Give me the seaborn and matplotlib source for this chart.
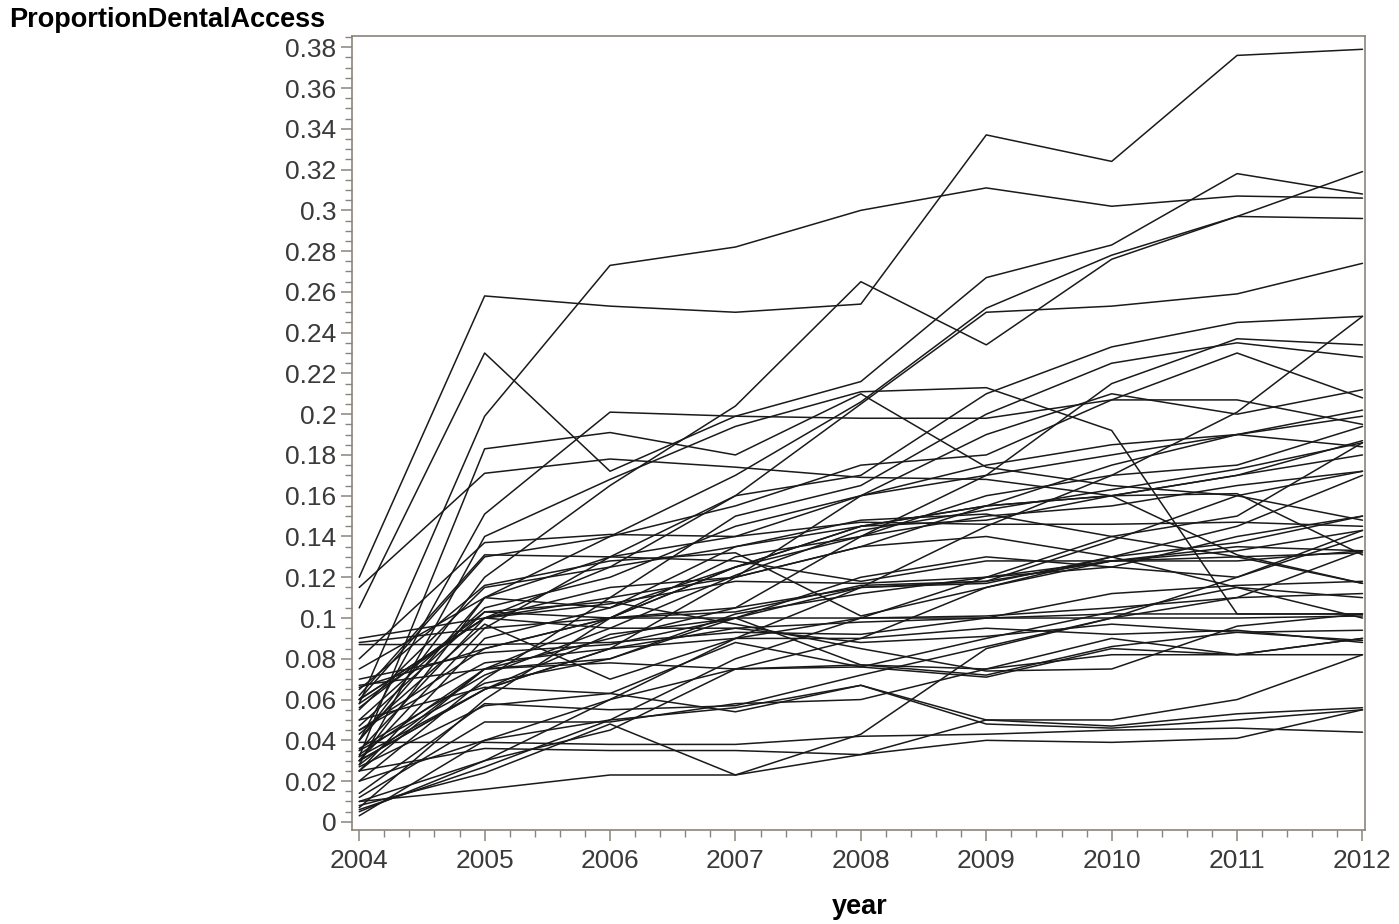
import numpy as np
import pandas as pd
import matplotlib
matplotlib.use("Agg")
import matplotlib.pyplot as plt
import seaborn as sns
from matplotlib.ticker import MultipleLocator, FuncFormatter

years = [2004, 2005, 2006, 2007, 2008, 2009, 2010, 2011, 2012]

# Proportion with dental access, one list per unit
proportion_by_unit = [
    [0.120, 0.258, 0.253, 0.250, 0.254, 0.337, 0.324, 0.376, 0.379],
    [0.058, 0.199, 0.273, 0.282, 0.300, 0.311, 0.302, 0.307, 0.306],
    [0.105, 0.230, 0.172, 0.199, 0.216, 0.267, 0.283, 0.318, 0.308],
    [0.030, 0.110, 0.140, 0.170, 0.206, 0.252, 0.278, 0.297, 0.319],
    [0.040, 0.120, 0.165, 0.204, 0.265, 0.234, 0.276, 0.297, 0.296],
    [0.030, 0.095, 0.130, 0.160, 0.205, 0.250, 0.253, 0.259, 0.274],
    [0.115, 0.171, 0.178, 0.174, 0.169, 0.168, 0.160, 0.131, 0.117],
    [0.032, 0.183, 0.191, 0.180, 0.210, 0.174, 0.165, 0.160, 0.172],
    [0.040, 0.151, 0.201, 0.199, 0.198, 0.198, 0.207, 0.207, 0.195],
    [0.028, 0.140, 0.168, 0.194, 0.211, 0.213, 0.192, 0.102, 0.102],
    [0.035, 0.100, 0.125, 0.160, 0.170, 0.210, 0.233, 0.245, 0.248],
    [0.020, 0.070, 0.110, 0.150, 0.165, 0.200, 0.225, 0.235, 0.228],
    [0.060, 0.130, 0.140, 0.155, 0.175, 0.180, 0.207, 0.230, 0.208],
    [0.007, 0.060, 0.100, 0.130, 0.140, 0.170, 0.215, 0.237, 0.234],
    [0.050, 0.105, 0.120, 0.145, 0.160, 0.190, 0.210, 0.200, 0.212],
    [0.010, 0.030, 0.060, 0.090, 0.115, 0.145, 0.170, 0.201, 0.248],
    [0.060, 0.100, 0.110, 0.120, 0.160, 0.175, 0.185, 0.190, 0.202],
    [0.045, 0.085, 0.100, 0.125, 0.145, 0.155, 0.175, 0.190, 0.199],
    [0.033, 0.075, 0.090, 0.105, 0.140, 0.160, 0.170, 0.175, 0.194],
    [0.030, 0.065, 0.085, 0.120, 0.135, 0.155, 0.160, 0.170, 0.187],
    [0.040, 0.110, 0.130, 0.140, 0.160, 0.170, 0.180, 0.190, 0.184],
    [0.055, 0.115, 0.125, 0.135, 0.145, 0.155, 0.160, 0.170, 0.180],
    [0.025, 0.090, 0.105, 0.125, 0.140, 0.150, 0.155, 0.165, 0.172],
    [0.080, 0.137, 0.141, 0.140, 0.147, 0.146, 0.146, 0.147, 0.145],
    [0.062, 0.131, 0.130, 0.128, 0.118, 0.128, 0.128, 0.128, 0.133],
    [0.065, 0.116, 0.128, 0.132, 0.101, 0.115, 0.128, 0.130, 0.132],
    [0.090, 0.100, 0.107, 0.118, 0.117, 0.120, 0.128, 0.133, 0.143],
    [0.058, 0.100, 0.115, 0.120, 0.135, 0.140, 0.130, 0.115, 0.110],
    [0.087, 0.087, 0.088, 0.093, 0.092, 0.100, 0.100, 0.100, 0.101],
    [0.088, 0.095, 0.100, 0.105, 0.115, 0.117, 0.130, 0.137, 0.150],
    [0.066, 0.085, 0.100, 0.103, 0.116, 0.118, 0.138, 0.160, 0.148],
    [0.067, 0.075, 0.080, 0.100, 0.120, 0.130, 0.125, 0.120, 0.140],
    [0.060, 0.100, 0.095, 0.095, 0.098, 0.100, 0.112, 0.116, 0.118],
    [0.075, 0.110, 0.105, 0.135, 0.148, 0.151, 0.140, 0.130, 0.117],
    [0.047, 0.103, 0.100, 0.100, 0.077, 0.072, 0.086, 0.093, 0.094],
    [0.043, 0.097, 0.070, 0.090, 0.100, 0.101, 0.105, 0.110, 0.133],
    [0.028, 0.075, 0.100, 0.125, 0.145, 0.148, 0.160, 0.161, 0.131],
    [0.035, 0.068, 0.080, 0.102, 0.112, 0.120, 0.125, 0.140, 0.150],
    [0.030, 0.065, 0.085, 0.090, 0.090, 0.095, 0.092, 0.094, 0.088],
    [0.027, 0.057, 0.063, 0.088, 0.076, 0.090, 0.103, 0.115, 0.100],
    [0.025, 0.075, 0.078, 0.075, 0.077, 0.075, 0.090, 0.082, 0.090],
    [0.050, 0.066, 0.063, 0.054, 0.067, 0.048, 0.046, 0.050, 0.055],
    [0.014, 0.058, 0.055, 0.057, 0.072, 0.086, 0.100, 0.120, 0.143],
    [0.012, 0.049, 0.049, 0.058, 0.060, 0.075, 0.082, 0.082, 0.090],
    [0.039, 0.039, 0.038, 0.038, 0.042, 0.043, 0.045, 0.046, 0.044],
    [0.025, 0.036, 0.035, 0.035, 0.033, 0.050, 0.047, 0.053, 0.056],
    [0.010, 0.016, 0.023, 0.023, 0.033, 0.040, 0.039, 0.041, 0.055],
    [0.008, 0.024, 0.048, 0.023, 0.043, 0.085, 0.100, 0.110, 0.112],
    [0.003, 0.040, 0.060, 0.075, 0.076, 0.071, 0.085, 0.082, 0.082],
    [0.005, 0.030, 0.045, 0.075, 0.090, 0.115, 0.130, 0.145, 0.170],
    [0.006, 0.027, 0.050, 0.080, 0.100, 0.120, 0.140, 0.150, 0.186],
    [0.032, 0.065, 0.092, 0.100, 0.115, 0.118, 0.128, 0.135, 0.133],
    [0.036, 0.072, 0.095, 0.121, 0.143, 0.153, 0.163, 0.173, 0.186],
    [0.045, 0.078, 0.085, 0.095, 0.088, 0.091, 0.097, 0.093, 0.089],
    [0.070, 0.083, 0.087, 0.100, 0.100, 0.100, 0.102, 0.102, 0.102],
    [0.056, 0.103, 0.108, 0.097, 0.085, 0.074, 0.075, 0.096, 0.102],
    [0.020, 0.040, 0.050, 0.056, 0.067, 0.050, 0.050, 0.060, 0.082],
]

rows = []
for uid, vals in enumerate(proportion_by_unit):
    for yr, v in zip(years, vals):
        rows.append({"unit": uid, "year": yr, "ProportionDentalAccess": v})
df = pd.DataFrame(rows)

sns.set_theme(style="white")
plt.rcParams["font.family"] = ["Liberation Sans", "DejaVu Sans"]

fig = plt.figure(figsize=(13.99, 9.24), dpi=100)
ax = fig.add_axes([0.2514, 0.1017, 0.7243, 0.8593])

sns.lineplot(data=df, x="year", y="ProportionDentalAccess", units="unit",
             estimator=None, color="#1a1a1a", lw=1.1, ax=ax, legend=False)

ax.set_xlim(2003.94, 2012.02)
ax.set_ylim(-0.004, 0.3855)

ax.xaxis.set_major_locator(MultipleLocator(1))
ax.xaxis.set_minor_locator(MultipleLocator(0.2))
ax.yaxis.set_major_locator(MultipleLocator(0.02))
ax.yaxis.set_minor_locator(MultipleLocator(0.005))

def yfmt(v, pos):
    s = f"{v:.2f}".rstrip("0").rstrip(".")
    return "0" if s in ("-0", "") else s

ax.yaxis.set_major_formatter(FuncFormatter(yfmt))
ax.xaxis.set_major_formatter(FuncFormatter(lambda v, p: f"{int(round(v))}"))

spine_col = "#8a857c"
for s in ax.spines.values():
    s.set_color(spine_col)
    s.set_linewidth(1.2)

ax.tick_params(axis="both", which="major", length=8, width=1.1, color=spine_col,
               labelsize=19, labelcolor="#3a3a3a", direction="out",
               bottom=True, left=True, top=False, right=False, pad=3)
ax.tick_params(axis="x", which="major", pad=6)
ax.tick_params(axis="both", which="minor", length=5, width=1.0, color=spine_col,
               direction="out", bottom=True, left=True, top=False, right=False)

ax.set_xlabel("")
ax.set_ylabel("")
fig.text(860 / 1399, 1 - 907 / 924, "year", ha="center", va="center",
         fontsize=19.5, fontweight="bold", color="black")
fig.text(9 / 1399, 1 - 20 / 924, "ProportionDentalAccess", ha="left", va="center",
         fontsize=19.5, fontweight="bold", color="black")

fig.savefig("out.png", dpi=100)
